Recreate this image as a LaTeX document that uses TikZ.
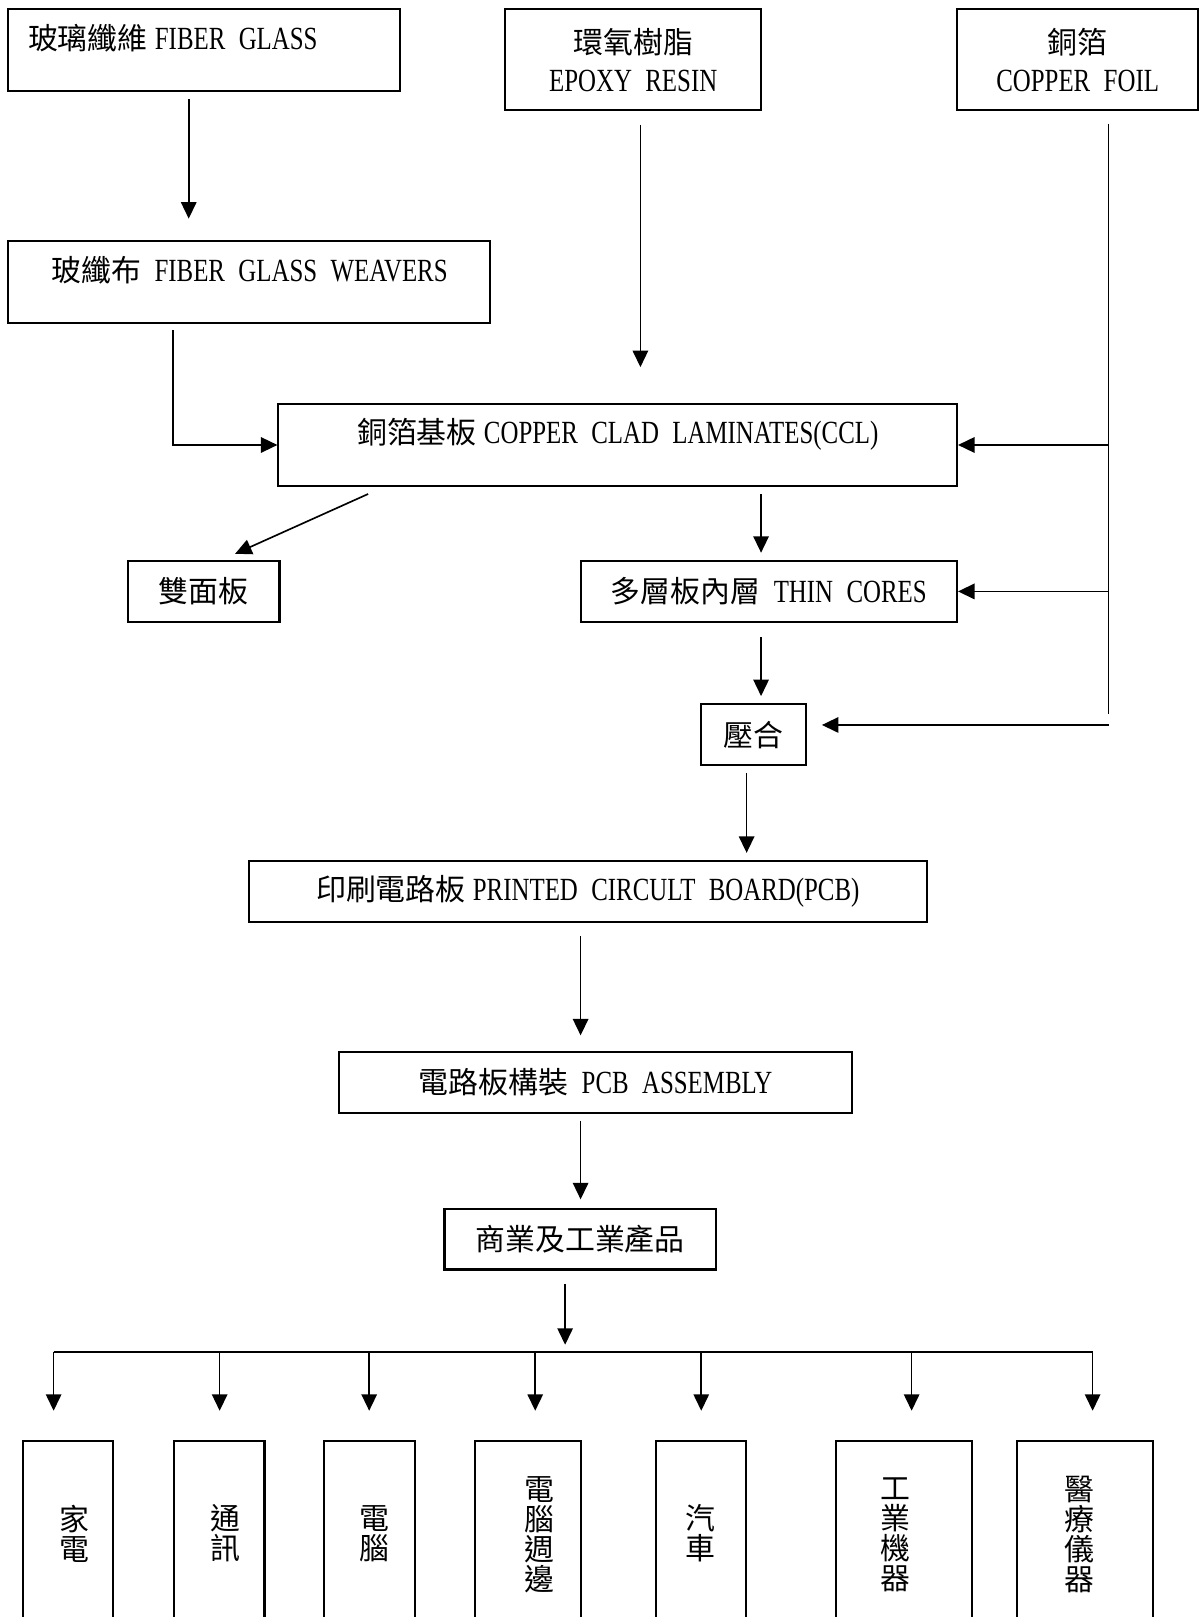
\documentclass[tikz,border=0pt]{standalone}
\usepackage{fontspec}
\setmainfont{Liberation Serif}[FakeStretch=0.77,Scale=1.08]
\newfontfamily\cjk{Noto Sans CJK TC}
\usetikzlibrary{arrows.meta,calc}
\newcommand\zh[1]{{\cjk #1}}
\newcommand\wsp{\hspace{13pt}}
\newcommand\nsp{\hspace{7pt}}
\begin{document}
\begin{tikzpicture}[x=1pt,y=-1pt,
  every node/.style={font=\fontsize{29}{29}\selectfont},
  box/.style={draw, line width=2pt, inner sep=0pt},
  txt/.style={inner sep=0pt},
  vert/.style={inner sep=0pt, align=center, font=\fontsize{29}{29}\selectfont\cjk},
  conn/.style={line width=1.6pt},
  arr/.style={conn, -{Triangle[width=15pt,length=16pt]}}]
\useasboundingbox (0,0) rectangle (1163,1568);
\clip (0,0) rectangle (1163,1568);
\fill[white] (0,0) rectangle (1163,1568);

% top row
\node[box, minimum width=380pt, minimum height=79pt] (A) at (198,48.5) {};
\node[txt, anchor=west] (tA) at (27,37) {\zh{玻璃纖維}\nsp FIBER\wsp GLASS};
\node[box, minimum width=248pt, minimum height=98pt, align=center] (B) at (614,58) {\zh{環氧樹脂}\\[8pt]EPOXY\wsp RESIN};
\node[box, minimum width=234pt, minimum height=98pt, align=center] (C) at (1045,58) {\zh{銅箔}\\[8pt]COPPER\wsp FOIL};

\node[box, minimum width=467pt, minimum height=79pt] (D) at (241.5,273.5) {};
\node[txt] (tD) at (242,262) {\zh{玻纖布}\wsp FIBER\wsp GLASS\wsp WEAVERS};

\node[box, minimum width=658pt, minimum height=79pt] (E) at (599,431.5) {};
\node[txt] (tE) at (599,421) {\zh{銅箔基板}\nsp COPPER\wsp CLAD\wsp LAMINATES(CCL)};

\node[box, minimum width=147pt, minimum height=59pt] (F) at (197.5,573.5) {\zh{雙面板}};
\node[box, minimum width=365pt, minimum height=59pt] (G) at (745.5,573.5) {\zh{多層板內層}\wsp THIN\wsp CORES};
\node[box, minimum width=102pt, minimum height=59pt] (H) at (731,712.5) {\zh{壓合}};
\node[box, minimum width=658pt, minimum height=59pt] (I) at (570,864.5) {\zh{印刷電路板}\nsp PRINTED\wsp CIRCULT\wsp BOARD(PCB)};
\node[box, minimum width=497pt, minimum height=59pt] (J) at (577.5,1049.5) {\zh{電路板構裝}\wsp PCB\wsp ASSEMBLY};
\node[box, minimum width=263pt, minimum height=59pt] (K) at (562.5,1201.5) {\zh{商業及工業產品}};

% bottom boxes (cut by the page edge)
\node[box, minimum width=88pt, minimum height=180pt] (P1) at (66,1487) {};
\node[box, minimum width=88pt, minimum height=180pt] (P2) at (212.5,1487) {};
\node[box, minimum width=88pt, minimum height=180pt] (P3) at (358.6,1487) {};
\node[box, minimum width=103pt, minimum height=180pt] (P4) at (511.7,1487) {};
\node[box, minimum width=88pt, minimum height=180pt] (P5) at (679.7,1487) {};
\node[box, minimum width=132pt, minimum height=180pt] (P6) at (876.6,1487) {};
\node[box, minimum width=132pt, minimum height=180pt] (P7) at (1052.4,1487) {};
\node[vert] (q1) at (72,1487) {家\\電};
\node[vert] (q2) at (219,1487) {通\\訊};
\node[vert] (q3) at (363.5,1487) {電\\腦};
\node[vert] (q4) at (523,1488) {電\\腦\\週\\邊};
\node[vert] (q5) at (679,1487) {汽\\車};
\node[vert] (q6) at (868,1488) {工\\業\\機\\器};
\node[vert] (q7) at (1047,1488) {醫\\療\\儀\\器};

% column coordinates
\coordinate (cA) at (183,0);
\coordinate (cD) at (168,0);
\coordinate (cB) at (621,0);
\coordinate (cC) at (1075,0);
\coordinate (cG) at (738,0);
\coordinate (cH) at (724,0);
\coordinate (cI) at (563,0);
\coordinate (cK) at (548,0);
\coordinate (cEnd) at (1075,692);
\coordinate (hIn) at (797,703);
\coordinate (busL) at (52,1311);
\coordinate (busR) at (1060,1311);
\coordinate (d1) at (52,1311);
\coordinate (d2) at (213,1311);
\coordinate (d3) at (358,1311);
\coordinate (d4) at (519,1311);
\coordinate (d5) at (680,1311);
\coordinate (d6) at (884,1311);
\coordinate (d7) at (1059.5,1311);

% connectors
\draw[arr, shorten <=7pt, shorten >=21pt] (A.south -| cA) -- (D.north -| cA);
\draw[arr] ($(D.south -| cD)+(0,6)$) |- (E.west);
\draw[arr, shorten <=13pt, shorten >=35pt] (B.south -| cB) -- (E.north -| cB);
\draw[conn] ($(C.south -| cC)+(0,12)$) -- (cEnd);
\draw[arr] (E.east -| cC) -- (E.east);
\draw[arr] (G.east -| cC) -- (G.east);
\draw[arr] (hIn -| cC) -- (hIn);
\draw[arr] ($(E.south west)+(88,7)$) -- ($(F.north)+(30.5,-6)$);
\draw[arr, shorten <=7pt, shorten >=7pt] (E.south -| cG) -- (G.north -| cG);
\draw[arr, shorten <=14pt, shorten >=7pt] (G.south -| cG) -- (H.north -| cG);
\draw[arr, shorten <=7pt, shorten >=7pt] (H.south -| cH) -- (I.north -| cH);
\draw[arr, shorten <=13pt, shorten >=15pt] (I.south -| cI) -- (J.north -| cI);
\draw[arr, shorten <=7pt, shorten >=8pt] (J.south -| cI) -- (K.north -| cI);
\draw[arr, shorten <=13pt, shorten >=7pt] (K.south -| cK) -- (busL -| cK);
\draw[conn] (busL) -- (busR);
\foreach \i in {1,...,7} {
  \draw[arr, shorten >=28pt] (d\i) -- (P\i.north -| d\i);
}
\end{tikzpicture}
\end{document}
